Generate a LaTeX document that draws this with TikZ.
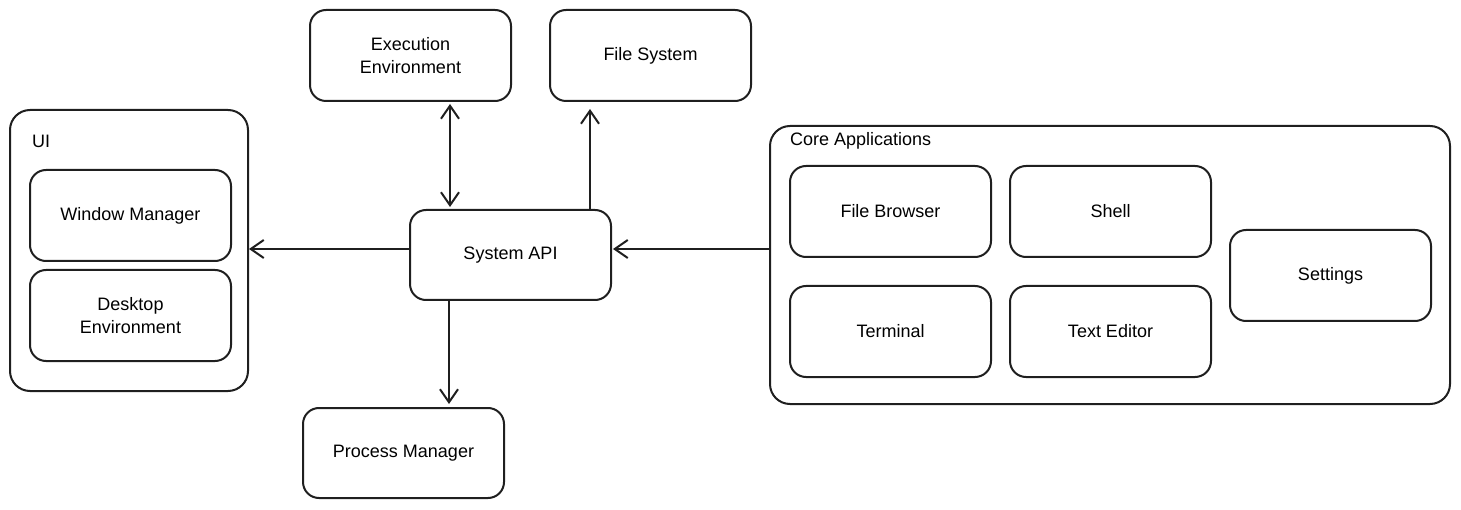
\documentclass[tikz,border=0pt]{standalone}
\usepackage{fontspec}
\setmainfont{Liberation Sans}
\usetikzlibrary{arrows.meta}
\begin{document}
\begin{tikzpicture}[x=1pt,y=-1pt,
  box/.style={draw=black!88, line width=2pt, rounded corners=16pt, align=center,
    font=\fontsize{18}{23}\selectfont, inner sep=0pt},
  grp/.style={draw=black!88, line width=2pt, rounded corners=20pt, inner sep=0pt},
  lbl/.style={anchor=west, font=\fontsize{18}{23}\selectfont, inner sep=0pt},
  tip/.style={Straight Barb[length=13pt,width=18pt,line width=2pt]},
  conn/.style={line width=2pt, draw=black!88, -{Straight Barb[length=13pt,width=18pt,line width=2pt]}},
  bconn/.style={line width=2pt, draw=black!88, {Straight Barb[length=13pt,width=18pt,line width=2pt]}-{Straight Barb[length=13pt,width=18pt,line width=2pt]}}
]
\useasboundingbox (0,0) rectangle (1461,510);
% containers
\node[grp, minimum width=238pt, minimum height=281pt] (ui) at (129,250.5) {};
\node[lbl] (uil) at (32,141) {UI};
\node[grp, minimum width=680pt, minimum height=278pt] (core) at (1110,265) {};
\node[lbl] (corel) at (790,141) {Core Applications};
% boxes
\node[box, minimum width=201pt, minimum height=91pt] (exec) at (410.5,55.5) {Execution\\Environment};
\node[box, minimum width=201pt, minimum height=91pt] (fs) at (650.5,55.5) {File System};
\node[box, minimum width=201pt, minimum height=91pt] (wm) at (130.5,215.5) {Window Manager};
\node[box, minimum width=201pt, minimum height=91pt] (de) at (130.5,315.5) {Desktop\\Environment};
\node[box, minimum width=201pt, minimum height=90pt] (api) at (510.5,255) {System API};
\node[box, minimum width=201pt, minimum height=90pt] (pm) at (403.5,453) {Process Manager};
\node[box, minimum width=201pt, minimum height=91pt] (fb) at (890.5,211.5) {File Browser};
\node[box, minimum width=201pt, minimum height=91pt] (sh) at (1110.5,211.5) {Shell};
\node[box, minimum width=201pt, minimum height=91pt] (set) at (1330.5,275.5) {Settings};
\node[box, minimum width=201pt, minimum height=91pt] (term) at (890.5,331.5) {Terminal};
\node[box, minimum width=201pt, minimum height=91pt] (te) at (1110.5,331.5) {Text Editor};
% routing guides
\coordinate (h) at (0,249);
\coordinate (v1) at (450,0);
\coordinate (v2) at (590,0);
\coordinate (v3) at (449,0);
% connectors
\draw[bconn, shorten <=2pt, shorten >=2pt] (exec.south -| v1) -- (api.north -| v1);
\draw[conn, shorten >=7pt] (api.north -| v2) -- (fs.south -| v2);
\draw[conn] (api.west |- h) -- (ui.east |- h);
\draw[conn, shorten >=1pt] (core.west |- h) -- (api.east |- h);
\draw[conn, shorten >=3pt] (api.south -| v3) -- (pm.north -| v3);
\end{tikzpicture}
\end{document}
